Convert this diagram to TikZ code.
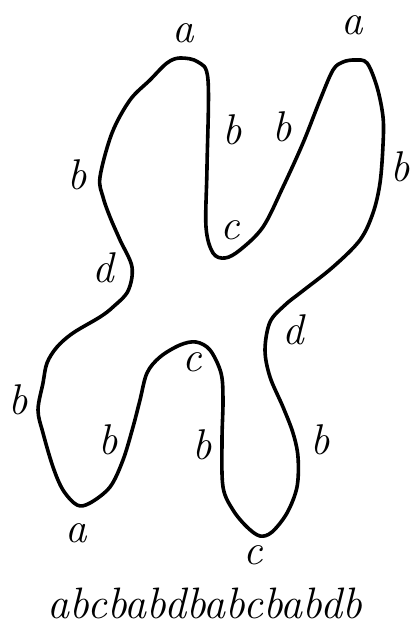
\documentclass[tikz,border=0pt]{standalone}
\usepackage{fontspec}
\begin{document}
\begin{tikzpicture}[x=1pt,y=-1pt,
  lbl/.style={inner sep=0pt,font=\fontsize{43}{48}\selectfont\itshape},
  curve/.style={line width=3.6pt,line join=round}]
\useasboundingbox (0,0) rectangle (412,626);
\draw[curve] plot[smooth cycle,tension=0.55] coordinates {
(180,58) (198,62) (208,80) (207,167) (206,227) (213,253) (225,258) (240,250)
(263,227) (283,187) (303,143) (320,100) (333,70) (343,62) (355,60) (367,63)
(377,87) (383,117) (383,145) (380,183) (373,213) (360,240) (333,267) (300,293)
(285,305) (270,322) (265,350) (270,377) (283,407) (293,433) (298,457) (297,487)
(287,513) (272,532) (260,536) (247,527) (233,510) (223,487) (222,440) (223,400)
(221,373) (210,350) (196,342) (180,345) (160,357) (147,373) (140,400) (133,427)
(123,460) (110,487) (90,503) (77,505) (63,490) (53,467) (43,433) (38,410)
(43,383) (47,363) (57,347) (73,333) (100,317) (113,307) (128,291) (132,267)
(120,240) (110,217) (103,197) (100,177) (112,133) (130,100) (150,80) (167,63)};
\node[lbl] (a1) at (183,33) {a};
\node[lbl] (a2) at (352,25) {a};
\node[lbl] (b1) at (232,130) {b};
\node[lbl] (b2) at (282,127) {b};
\node[lbl] (b3) at (77,175) {b};
\node[lbl] (b4) at (400,167) {b};
\node[lbl] (c1) at (230,230) {c};
\node[lbl] (d1) at (103,268) {d};
\node[lbl] (d2) at (293,330) {d};
\node[lbl] (c2) at (192,362) {c};
\node[lbl] (b5) at (18,400) {b};
\node[lbl] (b6) at (108,440) {b};
\node[lbl] (b7) at (202,445) {b};
\node[lbl] (b8) at (320,440) {b};
\node[lbl] (a3) at (76,533) {a};
\node[lbl] (c3) at (253,555) {c};
\node[lbl,font=\fontsize{44}{48}\selectfont\itshape] (word) at (205,603) {abcbabdbabcbabdb};
\end{tikzpicture}
\end{document}
